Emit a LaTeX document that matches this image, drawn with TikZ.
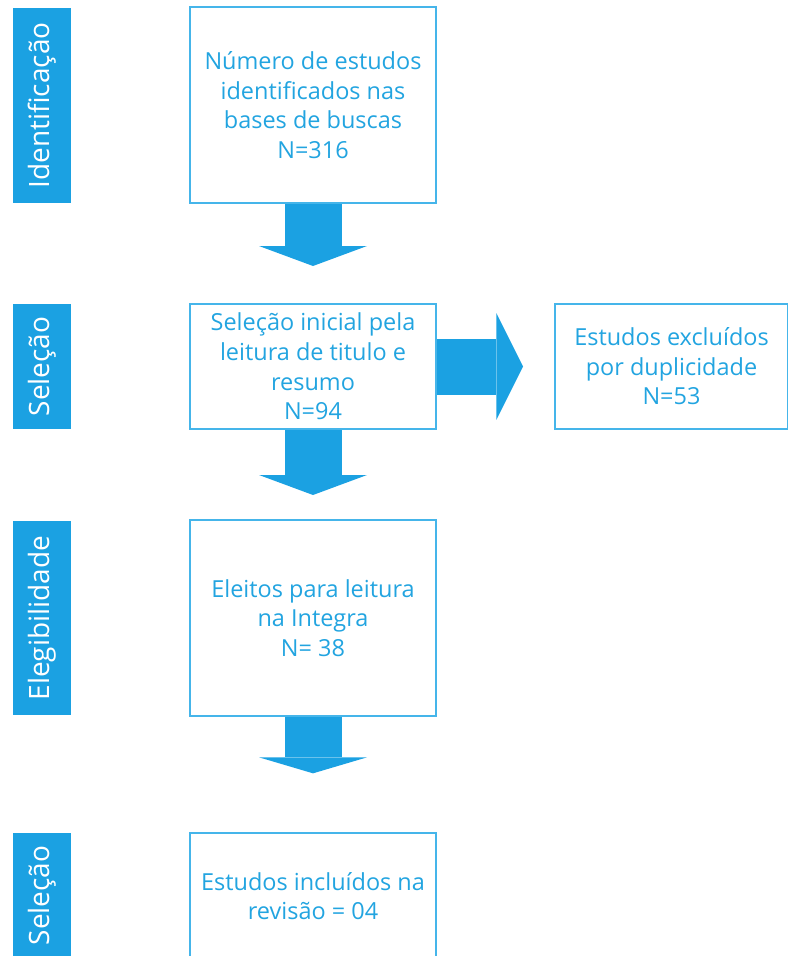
\documentclass[tikz,border=0pt]{standalone}
\usepackage{fontspec}
\setmainfont{Open Sans}
\usepackage{xcolor}
\usepackage{tikz}
\usetikzlibrary{arrows.meta}
\definecolor{metroblue}{HTML}{1BA1E2}
\definecolor{boxline}{HTML}{45B5EA}
\definecolor{boxtext}{HTML}{22A4E0}
\newcommand{\flowfont}{\fontsize{17.6}{22.2}\selectfont}
\newcommand{\phasefont}{\fontsize{21}{24}\selectfont}

\begin{document}
\begin{tikzpicture}[x=0.75pt,y=-0.75pt,
		stepbox/.style={rectangle, draw=boxline, line width=1.5pt, minimum width=184.5pt, align=center, text=boxtext, font=\flowfont, inner sep=0pt},
		phase/.style={rectangle, fill=metroblue, rotate=90, minimum height=44pt, text=white, font=\phasefont, inner sep=0pt},
		blockarrow/.style={draw=metroblue, line width=42.75pt, -{Triangle[width=81pt,length=15pt,line width=0pt]}}]
		\useasboundingbox (0,0) rectangle (788,956);

		% Phase bars on the left
		\node (bar_id) at (42,105.5) [phase, minimum width=146pt] {Identificação};
		\node (bar_sel) at (42,366.5) [phase, minimum width=94pt] {Seleção};
		\node (bar_eleg) at (42,618) [phase, minimum width=145.5pt] {Elegibilidade};
		\node (bar_inc) at (42,895.5) [phase, minimum width=94pt] {Seleção};

		% Boxes of the flow
		\node (box_id) at (313,105) [stepbox, minimum height=147pt] {Número de estudos\\identificados nas\\bases de buscas\\N=316};
		\node (box_sel) at (313,366.5) [stepbox, minimum height=93.75pt] {Seleção inicial pela\\leitura de titulo e\\resumo\\N=94};
		\node (box_exc) at (671.5,366.5) [stepbox, minimum width=174.75pt, minimum height=93.75pt] {Estudos excluídos\\por duplicidade\\N=53};
		\node (box_eleg) at (313,618) [stepbox, minimum height=147pt] {Eleitos para leitura\\na Integra\\N= 38};
		\node (box_inc) at (313,896) [stepbox, minimum height=94.5pt] {Estudos incluídos na\\revisão = 04};

		% Block arrows
		\draw [blockarrow, shorten >=27.75pt] (box_id) -- (box_sel);
		\draw [blockarrow, shorten >=18pt] (box_sel) -- (box_eleg);
		\draw [blockarrow, shorten >=44pt, -{Triangle[width=81pt,length=12pt,line width=0pt]}] (box_eleg) -- (box_inc);
		\draw [blockarrow, line width=42pt, shorten >=23.25pt, -{Triangle[width=80pt,length=20pt,line width=0pt]}] (box_sel) -- (box_exc);
\end{tikzpicture}
\end{document}
